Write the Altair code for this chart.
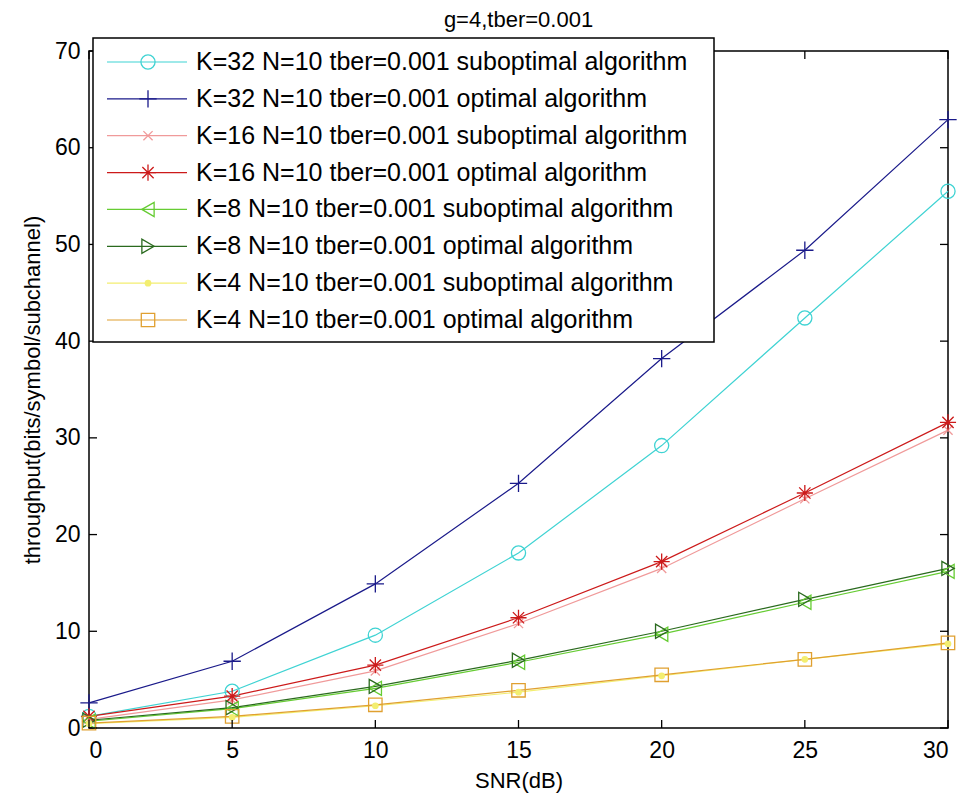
import altair as alt
import pandas as pd

snr = [0, 5, 10, 15, 20, 25, 30]

series_names = [
    "K=32 N=10 tber=0.001 suboptimal algorithm",
    "K=32 N=10 tber=0.001 optimal algorithm",
    "K=16 N=10 tber=0.001 suboptimal algorithm",
    "K=16 N=10 tber=0.001 optimal algorithm",
    "K=8 N=10 tber=0.001 suboptimal algorithm",
    "K=8 N=10 tber=0.001 optimal algorithm",
    "K=4 N=10 tber=0.001 suboptimal algorithm",
    "K=4 N=10 tber=0.001 optimal algorithm",
]

k32_sub = [1.2, 3.8, 9.6, 18.1, 29.2, 42.4, 55.5]
k32_opt = [2.6, 6.9, 14.9, 25.3, 38.2, 49.4, 62.9]
k16_sub = [0.9, 2.9, 5.9, 10.8, 16.5, 23.7, 30.8]
k16_opt = [1.2, 3.3, 6.5, 11.4, 17.2, 24.3, 31.6]
k8_sub = [0.7, 2.0, 4.1, 6.8, 9.7, 13.0, 16.2]
k8_opt = [0.8, 2.1, 4.3, 7.0, 10.0, 13.3, 16.5]
k4_sub = [0.45, 1.1, 2.3, 3.7, 5.4, 7.1, 8.7]
k4_opt = [0.5, 1.2, 2.4, 3.9, 5.5, 7.1, 8.8]

all_values = [k32_sub, k32_opt, k16_sub, k16_opt, k8_sub, k8_opt, k4_sub, k4_opt]

colors = ["#3fd3d3", "#1a1a8a", "#f09a9a", "#cc1a1a",
          "#66cc33", "#2a6a1e", "#f3ee70", "#e0a030"]
shapes = [
    "circle",
    "M-1,0L1,0M0,-1L0,1",
    "M-0.75,-0.75L0.75,0.75M-0.75,0.75L0.75,-0.75",
    "M-1,0L1,0M0,-1L0,1M-0.7,-0.7L0.7,0.7M-0.7,0.7L0.7,-0.7",
    "triangle-left",
    "triangle-right",
    "circle",
    "square",
]
sizes = [200, 300, 150, 260, 200, 200, 45, 180]

y_ticks = [0, 10, 20, 30, 40, 50, 60, 70]
x_ticks = [0, 5, 10, 15, 20, 25, 30]

rows = []
for name, vals in zip(series_names, all_values):
    for x, y in zip(snr, vals):
        rows.append({"snr": x, "thr": y, "series": name})
df = pd.DataFrame(rows)

W, H = 859, 677
FONT = "Liberation Sans"

xs = alt.Scale(domain=[0, 30], nice=False, zero=False)
ys = alt.Scale(domain=[0, 70], nice=False, zero=False)
color_scale = alt.Scale(domain=series_names, range=colors)
shape_scale = alt.Scale(domain=series_names, range=shapes)
size_scale = alt.Scale(type="ordinal", domain=series_names, range=sizes)

base = alt.Chart(df)

lines = base.mark_line(strokeWidth=1.2).encode(
    x=alt.X("snr:Q", scale=xs,
            axis=alt.Axis(values=x_ticks, title="SNR(dB)", tickSize=0,
                          labelPadding=11, titlePadding=8)),
    y=alt.Y("thr:Q", scale=ys,
            axis=alt.Axis(values=y_ticks, title="throughput(bits/symbol/subchannel)",
                          tickSize=0, labelPadding=9, titlePadding=10)),
    color=alt.Color("series:N", scale=color_scale, legend=None),
    detail="series:N",
)

open_pts = base.transform_filter(
    alt.datum.series != series_names[6]
).mark_point(filled=False, strokeWidth=1.3, opacity=1).encode(
    x=alt.X("snr:Q", scale=xs),
    y=alt.Y("thr:Q", scale=ys),
    color=alt.Color("series:N", scale=color_scale, legend=None),
    shape=alt.Shape("series:N", scale=shape_scale, legend=None),
    size=alt.Size("series:N", scale=size_scale, legend=None),
)

dot_pts = base.transform_filter(
    alt.datum.series == series_names[6]
).mark_point(filled=True, opacity=1).encode(
    x=alt.X("snr:Q", scale=xs),
    y=alt.Y("thr:Q", scale=ys),
    color=alt.Color("series:N", scale=color_scale, legend=None),
    shape=alt.Shape("series:N", scale=shape_scale, legend=None),
    size=alt.Size("series:N", scale=size_scale, legend=None),
)

ytick_df = pd.DataFrame({"v": y_ticks})
xtick_df = pd.DataFrame({"v": x_ticks})

ytl = alt.Chart(ytick_df).mark_rule(color="black", strokeWidth=1.3).encode(
    y=alt.Y("v:Q", scale=ys), x=alt.value(0), x2=alt.value(8))
ytr = alt.Chart(ytick_df).mark_rule(color="black", strokeWidth=1.3).encode(
    y=alt.Y("v:Q", scale=ys), x=alt.value(W - 8), x2=alt.value(W))
xtb = alt.Chart(xtick_df).mark_rule(color="black", strokeWidth=1.3).encode(
    x=alt.X("v:Q", scale=xs), y=alt.value(H), y2=alt.value(H - 8))
xtt = alt.Chart(xtick_df).mark_rule(color="black", strokeWidth=1.3).encode(
    x=alt.X("v:Q", scale=xs), y=alt.value(0), y2=alt.value(8))

main = alt.layer(lines, open_pts, dot_pts, ytl, ytr, xtb, xtt)

# legend box
leg_df = pd.DataFrame({"series": series_names, "row": list(range(8))})
row_scale = alt.Scale(domain=[0, 7], range=[11, 269], nice=False, zero=False)

box = alt.Chart(pd.DataFrame({"a": [0]})).mark_rect(
    fill="white", stroke="black", strokeWidth=1.5
).encode(x=alt.value(4), x2=alt.value(625), y=alt.value(-13), y2=alt.value(291))

leg_lines = alt.Chart(leg_df).mark_rule(strokeWidth=1.2).encode(
    y=alt.Y("row:Q", scale=row_scale, axis=None),
    x=alt.value(18), x2=alt.value(98),
    color=alt.Color("series:N", scale=color_scale, legend=None),
)
leg_open = alt.Chart(leg_df).transform_filter(
    alt.datum.row != 6
).mark_point(filled=False, strokeWidth=1.3, opacity=1).encode(
    y=alt.Y("row:Q", scale=row_scale, axis=None),
    x=alt.value(59),
    color=alt.Color("series:N", scale=color_scale, legend=None),
    shape=alt.Shape("series:N", scale=shape_scale, legend=None),
    size=alt.Size("series:N", scale=size_scale, legend=None),
)
leg_dot = alt.Chart(leg_df).transform_filter(
    alt.datum.row == 6
).mark_point(filled=True, opacity=1).encode(
    y=alt.Y("row:Q", scale=row_scale, axis=None),
    x=alt.value(59),
    color=alt.Color("series:N", scale=color_scale, legend=None),
    shape=alt.Shape("series:N", scale=shape_scale, legend=None),
    size=alt.Size("series:N", scale=size_scale, legend=None),
)
leg_text = alt.Chart(leg_df).mark_text(
    align="left", baseline="middle", fontSize=25, font=FONT, color="black"
).encode(
    y=alt.Y("row:Q", scale=row_scale, axis=None),
    x=alt.value(107),
    text="series:N",
)

legend = alt.layer(box, leg_lines, leg_open, leg_dot, leg_text)

chart = alt.layer(main, legend).resolve_scale(y="independent").properties(
    width=W,
    height=H,
    background="white",
    title=alt.TitleParams("g=4,tber=0.001", fontSize=22, font=FONT,
                          fontWeight="normal", anchor="middle", offset=5),
    autosize=alt.AutoSizeParams(type="none"),
    padding={"left": 81, "top": 43, "right": 9, "bottom": 66},
).configure_view(
    stroke="black", strokeWidth=1.5
).configure_axis(
    domain=False, grid=False, labelFont=FONT, titleFont=FONT,
    labelFontSize=23, titleFontSize=22, titleFontWeight="normal",
    labelColor="black", titleColor="black",
)

chart.save("out.html", embed_options={"renderer": "svg", "actions": False})
